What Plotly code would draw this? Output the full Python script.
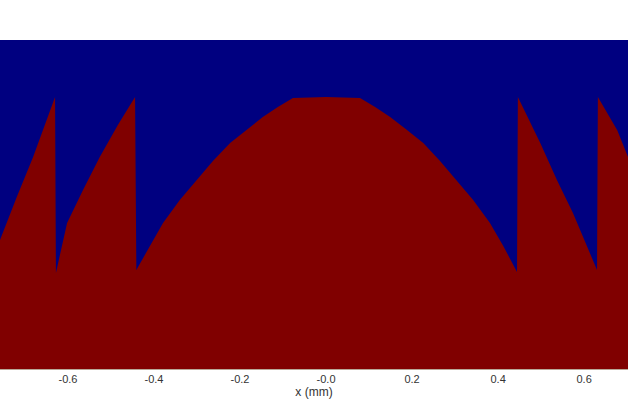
import plotly.graph_objects as go

# Boundary profile: x position (mm) and relative height of the red region
x_mm = [-0.758, -0.719, -0.681, -0.630, -0.628, -0.602, -0.565, -0.526, -0.484, -0.444,
        -0.441, -0.409, -0.379, -0.340, -0.300, -0.263, -0.223, -0.184, -0.147, -0.112,
        -0.077, 0.000, 0.079, 0.114, 0.149, 0.186, 0.226, 0.265, 0.302, 0.342,
        0.381, 0.412, 0.444, 0.446, 0.498, 0.537, 0.574, 0.630, 0.632, 0.677,
        0.702]
height = [0.392, 0.523, 0.644, 0.827, 0.292, 0.444, 0.544, 0.644, 0.742, 0.827,
          0.301, 0.374, 0.444, 0.514, 0.574, 0.632, 0.687, 0.729, 0.766, 0.796,
          0.824, 0.827, 0.824, 0.796, 0.766, 0.729, 0.687, 0.632, 0.574, 0.514,
          0.444, 0.374, 0.295, 0.827, 0.687, 0.574, 0.474, 0.301, 0.827, 0.726,
          0.644]

tick_vals = [-0.6, -0.4, -0.2, 0.0, 0.2, 0.4, 0.6]
tick_text = ["-0.6", "-0.4", "-0.2", "-0.0", "0.2", "0.4", "0.6"]

BLUE = "#000080"
RED = "#800000"

fig = go.Figure()
fig.add_trace(go.Scatter(
    x=x_mm, y=height, mode="lines", fill="tozeroy",
    line=dict(color=RED, width=0), fillcolor=RED, hoverinfo="skip",
    showlegend=False,
))

fig.update_layout(
    width=628, height=419,
    margin=dict(l=0, r=0, t=40, b=50, autoexpand=False),
    paper_bgcolor="white",
    plot_bgcolor=BLUE,
    font=dict(family="Liberation Sans, Arial, sans-serif", size=11, color="#333333"),
    xaxis=dict(
        range=[-0.758, 0.702], tickvals=tick_vals, ticktext=tick_text,
        showgrid=False, zeroline=False, ticks="", ticklen=0,
        title=dict(text="x (mm)", standoff=2, font=dict(size=12)),
        showline=True, linecolor="#b8a898", linewidth=1, mirror=False,
    ),
    yaxis=dict(range=[0, 1], showticklabels=False, showgrid=False, zeroline=False,
               ticks="", showline=False),
)

fig.write_html(
    "out.html",
    config={"displayModeBar": False},
    post_script="document.body.style.margin='0';document.body.style.padding='0';",
)
